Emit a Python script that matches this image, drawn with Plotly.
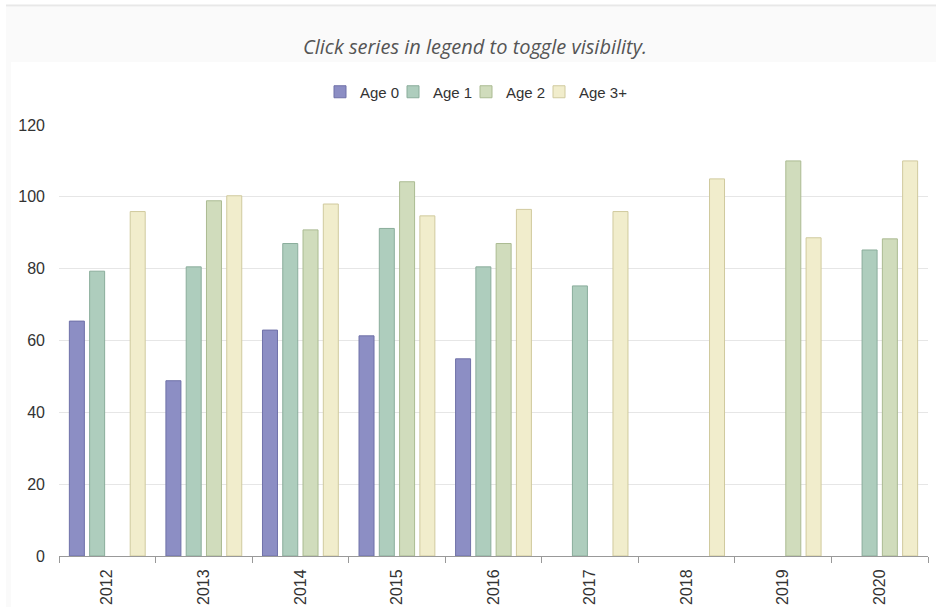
import plotly.graph_objects as go

years = ["2012", "2013", "2014", "2015", "2016", "2017", "2018", "2019", "2020"]
age0 = [65.4, 48.8, 62.9, 61.3, 54.9, None, None, None, None]
age1 = [79.3, 80.5, 87.0, 91.2, 80.5, 75.2, None, None, 85.2]
age2 = [None, 98.9, 90.8, 104.2, 87.0, None, None, 110.0, 88.3]
age3 = [95.9, 100.3, 98.0, 94.7, 96.5, 95.9, 105.0, 88.6, 110.0]

series = [
    ("Age 0", age0, "#8c8ec4", "#6f71a8"),
    ("Age 1", age1, "#aecdbd", "#8aad9b"),
    ("Age 2", age2, "#d0dcbc", "#abbb92"),
    ("Age 3+", age3, "#f1edcc", "#d0ca9e"),
]

W, H = 936, 607
L, R, T, B = 59, 8, 125, 51
pw, ph = W - L - R, H - T - B


def px(x):
    return (x - L) / pw


def py(y):
    return (H - B - y) / ph


fig = go.Figure()
for name, vals, fill, line in series:
    fig.add_trace(go.Bar(
        name=name, x=years, y=vals,
        marker=dict(color=fill, line=dict(color=line, width=1)),
    ))
# invisible spacer legend entry so the last legend label is not clipped
fig.add_trace(go.Bar(
    name="", x=[years[0]], y=[0], hoverinfo="skip", visible="legendonly",
    marker=dict(color="rgba(0,0,0,0)", line=dict(width=0)),
))

font_main = "Liberation Sans, Arial, sans-serif"

fig.update_layout(
    width=W, height=H,
    margin=dict(l=L, r=R, t=T, b=B),
    paper_bgcolor="white",
    plot_bgcolor="white",
    barmode="group",
    bargap=0.16,
    bargroupgap=0.26,
    font=dict(family=font_main, size=15, color="#333333"),
    showlegend=True,
    legend=dict(
        orientation="h", x=px(320), y=py(92), xanchor="left", yanchor="middle",
        font=dict(family=font_main, size=15, color="#333333"),
        entrywidth=28, entrywidthmode="pixels",
        bgcolor="rgba(0,0,0,0)", itemclick="toggle",
    ),
    xaxis=dict(
        type="category", tickangle=-90, tickson="boundaries",
        ticks="outside", ticklen=6, tickcolor="#999999",
        showline=True, linecolor="#999999", linewidth=1,
        showgrid=False, ticklabelstandoff=6, automargin=False,
        tickfont=dict(family=font_main, size=16, color="#333333"),
    ),
    yaxis=dict(
        range=[0, 120], dtick=20, showgrid=True, gridcolor="#e6e6e6", gridwidth=1,
        zeroline=False, showline=False, ticks="", ticklabelstandoff=13,
        automargin=False,
        tickfont=dict(family=font_main, size=16, color="#333333"),
    ),
    shapes=[
        dict(type="rect", xref="paper", yref="paper", layer="below",
             x0=px(6), x1=px(W + 2), y0=py(H + 2), y1=py(7),
             fillcolor="#fafafa", line=dict(width=0)),
        dict(type="line", xref="paper", yref="paper", layer="below",
             x0=px(6), x1=px(W + 2), y0=py(5.5), y1=py(5.5),
             line=dict(color="#e8e8e8", width=2)),
        dict(type="rect", xref="paper", yref="paper", layer="below",
             x0=px(11), x1=px(W + 2), y0=py(H + 2), y1=py(62),
             fillcolor="white", line=dict(width=0)),
    ],
    annotations=[
        dict(text="<i>Click series in legend to toggle visibility.</i>",
             xref="paper", yref="paper", x=px(475), y=py(47),
             xanchor="center", yanchor="middle", showarrow=False,
             font=dict(family="Open Sans, sans-serif", size=20, color="#555555")),
    ],
)

fig.write_html("out.html", config={"displayModeBar": False},
               post_script="document.body.style.margin='0';")
